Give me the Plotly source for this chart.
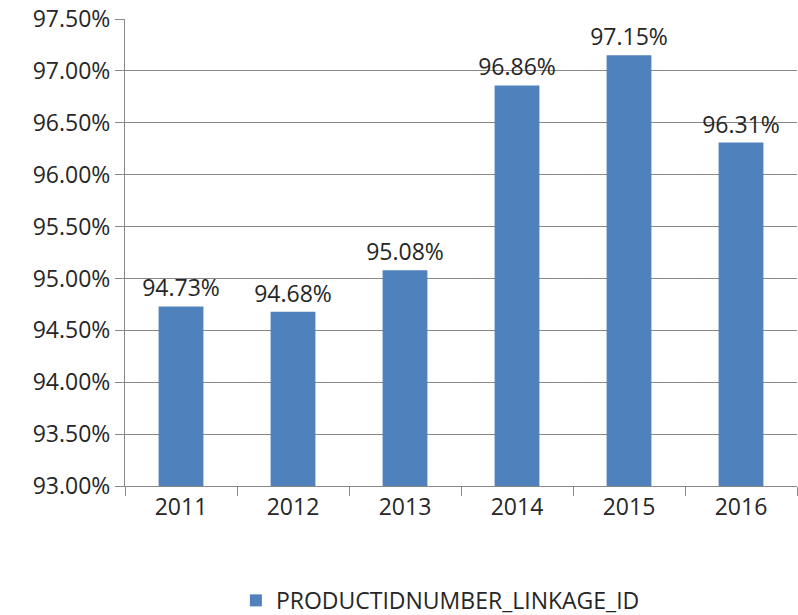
import plotly.graph_objects as go

years = ["2011", "2012", "2013", "2014", "2015", "2016"]
rates = [0.9473, 0.9468, 0.9508, 0.9686, 0.9715, 0.9631]
series_name = "PRODUCTIDNUMBER_LINKAGE_ID"

FONT = "Open Sans"
TXT = "#262626"
GRID = "#888888"
FS = 23

fig = go.Figure()
fig.add_trace(go.Bar(
    x=years, y=rates, name=series_name,
    marker=dict(color="#4F81BD", line=dict(width=0)),
    texttemplate="%{y:.2%}", textposition="outside",
    textfont=dict(family=FONT, size=FS, color=TXT),
    constraintext="none",
    cliponaxis=False, showlegend=True,
))

fig.update_layout(
    width=798, height=615,
    margin=dict(l=125, r=1, t=19, b=129, autoexpand=False),
    paper_bgcolor="white", plot_bgcolor="white",
    bargap=0.6,
    font=dict(family=FONT, size=FS, color=TXT),
    showlegend=True,
    legend=dict(orientation="h", x=0.165, xanchor="left", y=-0.245, yanchor="middle",
                font=dict(family=FONT, size=FS, color=TXT), itemwidth=30),
    xaxis=dict(
        automargin=False,
        showline=True, linecolor=GRID, linewidth=1,
        ticks="outside", ticklen=9, tickcolor=GRID, tickson="boundaries",
        tickfont=dict(family=FONT, size=FS, color=TXT),
        showgrid=False,
    ),
    yaxis=dict(
        automargin=False, ticklabeloverflow="allow",
        range=[0.93, 0.975], dtick=0.005, tickformat=".2%",
        showline=True, linecolor=GRID, linewidth=1,
        ticks="outside", ticklen=9, tickcolor=GRID,
        showgrid=True, gridcolor=GRID, gridwidth=1,
        tickfont=dict(family=FONT, size=FS, color=TXT),
        zeroline=False,
    ),
)

fig.write_html("out.html", config={"displayModeBar": False},
               post_script="document.body.style.margin='0';")
